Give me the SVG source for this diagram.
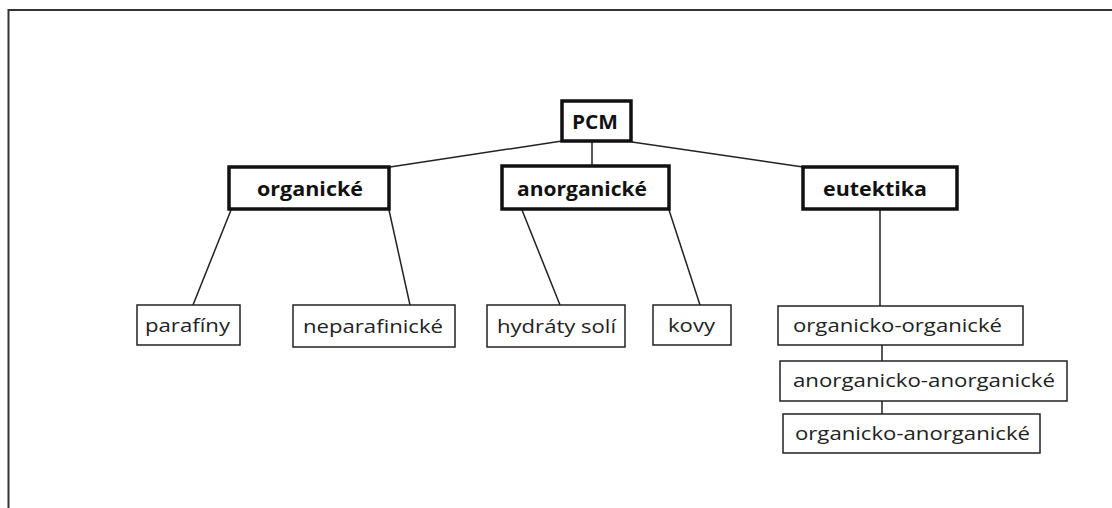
<svg xmlns="http://www.w3.org/2000/svg" width="1112" height="508" viewBox="0 0 1112 508">
  <style>
    .main rect { fill: #fff; stroke: #111; stroke-width: 3.5; }
    .sub rect { fill: #fff; stroke: #222; stroke-width: 1.5; }
    text { font-family: "Open Sans", "Noto Sans", sans-serif; font-size: 19px; }
    .main text { font-weight: bold; fill: #111; }
    .sub text { fill: #222; }
    #connectors line { stroke: #222; stroke-width: 1.5; }
  </style>
  <rect x="0" y="0" width="1112" height="508" fill="#fff"/>
  <!-- page frame -->
  <path d="M8.5 508 V10 H1112" fill="none" stroke="#333" stroke-width="2"/>

  <g id="connectors">
    <line x1="562" y1="141" x2="390" y2="167"/>
    <line x1="592" y1="142" x2="592" y2="166"/>
    <line x1="632" y1="142" x2="803" y2="167"/>
    <line x1="231" y1="210" x2="193" y2="305"/>
    <line x1="389" y1="210" x2="410" y2="305"/>
    <line x1="522" y1="210" x2="560" y2="305"/>
    <line x1="669" y1="210" x2="700" y2="305"/>
    <line x1="880" y1="210" x2="880" y2="306"/>
    <line x1="882" y1="345" x2="882" y2="361"/>
    <line x1="882" y1="401" x2="882" y2="414"/>
  </g>

  <g id="pcm" class="main">
    <rect x="562" y="101" width="69" height="40"/>
    <text x="572" y="129" textLength="46" lengthAdjust="spacingAndGlyphs">PCM</text>
  </g>
  <g id="organicke" class="main">
    <rect x="229" y="167" width="160" height="42"/>
    <text x="257" y="196" textLength="106" lengthAdjust="spacingAndGlyphs">organické</text>
  </g>
  <g id="anorganicke" class="main">
    <rect x="502" y="166" width="167" height="43"/>
    <text x="517" y="196" textLength="130" lengthAdjust="spacingAndGlyphs">anorganické</text>
  </g>
  <g id="eutektika" class="main">
    <rect x="803" y="167" width="154" height="42"/>
    <text x="823" y="196" textLength="104" lengthAdjust="spacingAndGlyphs">eutektika</text>
  </g>

  <g id="parafiny" class="sub">
    <rect x="137" y="305" width="103" height="40"/>
    <text x="145" y="332" textLength="85" lengthAdjust="spacingAndGlyphs">parafíny</text>
  </g>
  <g id="neparafinicke" class="sub">
    <rect x="293" y="305" width="162" height="42"/>
    <text x="303" y="333" textLength="140" lengthAdjust="spacingAndGlyphs">neparafinické</text>
  </g>
  <g id="hydraty-soli" class="sub">
    <rect x="487" y="305" width="138" height="42"/>
    <text x="497" y="333" textLength="119" lengthAdjust="spacingAndGlyphs">hydráty solí</text>
  </g>
  <g id="kovy" class="sub">
    <rect x="653" y="305" width="78" height="40"/>
    <text x="668" y="332" textLength="47" lengthAdjust="spacingAndGlyphs">kovy</text>
  </g>
  <g id="organicko-organicke" class="sub">
    <rect x="778" y="306" width="245" height="39"/>
    <text x="793" y="332" textLength="209" lengthAdjust="spacingAndGlyphs">organicko-organické</text>
  </g>
  <g id="anorganicko-anorganicke" class="sub">
    <rect x="780" y="361" width="287" height="40"/>
    <text x="793" y="387" textLength="262" lengthAdjust="spacingAndGlyphs">anorganicko-anorganické</text>
  </g>
  <g id="organicko-anorganicke" class="sub">
    <rect x="783" y="414" width="257" height="39"/>
    <text x="795" y="440" textLength="235" lengthAdjust="spacingAndGlyphs">organicko-anorganické</text>
  </g>
</svg>
